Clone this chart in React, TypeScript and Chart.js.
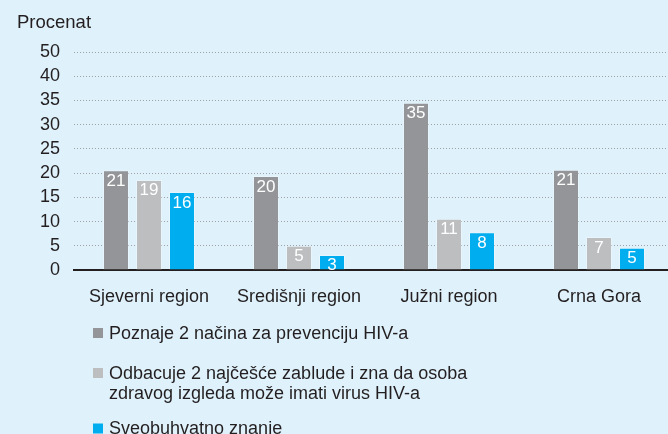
import React, { useEffect, useRef } from "react";
import { Chart, registerables } from "chart.js";

Chart.register(...registerables);

const categories = ["Sjeverni region", "Središnji region", "Južni region", "Crna Gora"];
const seriesNames = [
  ["Poznaje 2 načina za prevenciju HIV-a"],
  ["Odbacuje 2 najčešće zablude i zna da osoba", "zdravog izgleda može imati virus HIV-a"],
  ["Sveobuhvatno znanje"],
];
const knowsPrevention = [20.6, 19.4, 34.5, 20.7];
const rejectsMisconceptions = [18.6, 5.0, 10.6, 6.8];
const comprehensive = [16.1, 3.1, 7.8, 4.6];
const valueLabels = [
  [21, 20, 35, 21],
  [19, 5, 11, 7],
  [16, 3, 8, 5],
];
const yTickLabels = ["0", "5", "10", "15", "20", "25", "30", "35", "40", "50"];
const colors = ["#939598", "#bcbec0", "#00aeef"];

const FONT = "'Liberation Sans', Arial, Helvetica, sans-serif";
const TEXT = "#231f20";
const BG = "#dff1fb";

const extrasPlugin = {
  id: "extras",
  afterDatasetsDraw(chart: any) {
    const ctx = chart.ctx;
    ctx.save();
    ctx.font = `17px ${FONT}`;
    ctx.fillStyle = "#ffffff";
    ctx.textAlign = "center";
    ctx.textBaseline = "alphabetic";
    chart.data.datasets.forEach((ds: any, di: number) => {
      const meta = chart.getDatasetMeta(di);
      meta.data.forEach((el: any, i: number) => {
        ctx.fillText(String(valueLabels[di][i]), el.x, el.y + 15.5);
      });
    });
    ctx.restore();
  },
  afterDraw(chart: any) {
    const ctx = chart.ctx;
    ctx.save();
    ctx.fillStyle = TEXT;
    ctx.font = `18.5px ${FONT}`;
    ctx.textAlign = "left";
    ctx.textBaseline = "alphabetic";
    ctx.fillText("Procenat", 17, 28);
    // legend
    const itemBaselines = [338.5, 378.5, 434];
    ctx.font = `18px ${FONT}`;
    seriesNames.forEach((lines, i) => {
      const b = itemBaselines[i];
      ctx.fillStyle = colors[i];
      ctx.fillRect(93, b - 10.5, 10, 10);
      ctx.fillStyle = TEXT;
      lines.forEach((line, li) => {
        ctx.fillText(line, 109, b + li * 20);
      });
    });
    ctx.restore();
  },
};

export default function App() {
  const ref = useRef<HTMLCanvasElement | null>(null);
  useEffect(() => {
    if (!ref.current) return;
    const datasets = [knowsPrevention, rejectsMisconceptions, comprehensive].map((data, i) => ({
      label: seriesNames[i].join(" "),
      data,
      backgroundColor: colors[i],
      borderColor: "rgba(255,255,255,0.3)",
      borderWidth: 1,
      categoryPercentage: 0.66,
      barPercentage: 26 / 33,
    }));
    const chart = new Chart(ref.current, {
      type: "bar",
      data: { labels: categories, datasets },
      options: {
        animation: false,
        responsive: false,
        layout: { padding: { top: 52, bottom: 124, left: 0, right: 0 } },
        plugins: { legend: { display: false }, tooltip: { enabled: false }, title: { display: false } },
        scales: {
          x: {
            grid: { display: false },
            border: { display: true, color: TEXT, width: 2 },
            ticks: { color: TEXT, font: { family: FONT, size: 18 }, padding: 8, maxRotation: 0, autoSkip: false },
            afterFit(scale: any) {
              scale.height = 40;
            },
          },
          y: {
            min: 0,
            max: 45,
            grid: { color: "#9fa1a4", lineWidth: 1, drawTicks: false },
            border: { display: false, dash: [1, 2] },
            ticks: {
              stepSize: 5,
              autoSkip: false,
              color: TEXT,
              font: { family: FONT, size: 18 },
              padding: 14,
              callback: (_v: any, idx: number) => yTickLabels[idx],
            },
            afterFit(scale: any) {
              scale.width = 74;
            },
          },
        },
      },
      plugins: [extrasPlugin],
    });
    return () => chart.destroy();
  }, []);
  return (
    <div
      style={{
        position: "fixed",
        left: 0,
        top: 0,
        width: 668,
        height: 434,
        overflow: "hidden",
        background: BG,
      }}
    >
      <canvas ref={ref} width={674} height={434} style={{ display: "block" }} />
    </div>
  );
}
